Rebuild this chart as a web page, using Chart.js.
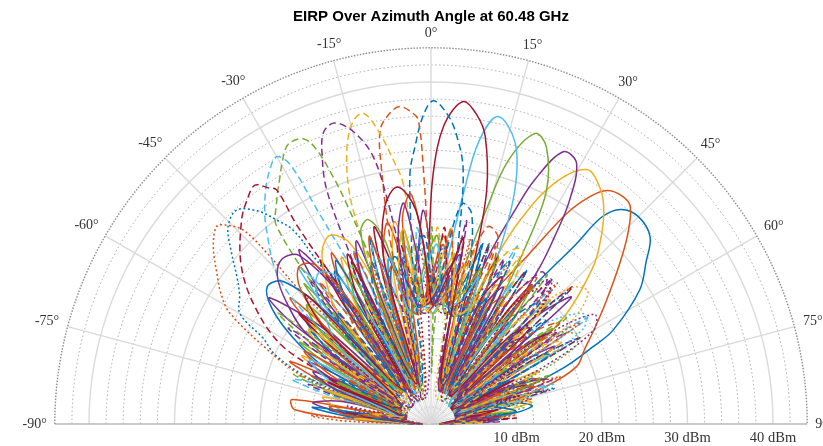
<!DOCTYPE html>
<html>
<head>
<meta charset="utf-8">
<script src="https://cdn.jsdelivr.net/npm/chart.js@4/dist/chart.umd.min.js"></script>
<style>
  body { margin: 0; background: #fff; }
  #wrap { width: 823px; height: 446px; }
</style>
</head>
<body>
<div id="wrap"><canvas id="eirp" width="823" height="446"></canvas></div>
<script>
// EIRP (dBm) against azimuth (deg), one list per beam: [azimuth, dBm]
// beams 1-7 solid, 8-14 dashed, 15-21 dotted, 22-28 solid, 29-32 dashed (matlab style cycling)
const beam01 = [[-90,1],[-86,6],[-82,12],[-78,4],[-72,9],[-68,15],[-62,5],[-55,14],[-50,19],[-44,6],[-36,17],[-32,21],[-26,5],[-18,15],[-14,20],[-8,14],[-2,14],[2,19],[8,14],[13,17],[16,21],[22,6],[26,11],[28,14],[30,7],[33.5,11.8],[36.5,19.5],[38.9,27.1],[39.5,31.3],[41.5,33.5],[45,34.3],[49.5,33.7],[53,31.5],[57.3,29],[62.7,24],[64.5,21],[67,17],[69,12],[69.5,6],[72,3],[76,10],[80,12],[84,8],[88,3],[90,1]];
const beam02 = [[-90,1],[-87,8],[-84,16],[-80,16.5],[-77,6],[-70,12],[-66,18],[-60,6],[-52,16],[-48,22],[-42,6],[-34,18],[-30,23],[-24,6],[-16,20],[-12,24],[-6,14],[0,17],[4,22],[10,14],[14,15],[17,19],[20,5],[24,12],[26,17.5],[28,20],[30,23],[32.8,29.3],[35,32.5],[37,34.2],[40,34.8],[42.5,34.5],[46,32],[49.6,29],[55,25],[60,22],[64,20],[68.5,18.3],[72,14],[75,8],[77,3],[82,9],[86,6],[90,1]];
const beam03 = [[-90,1],[-86,5],[-82,10],[-76,13],[-72,4],[-66,12],[-62,17],[-56,5],[-50,14],[-46,20],[-40,6],[-32,17],[-28,22],[-22,5],[-14,18],[-10,24],[-4,14],[2,17],[6,23],[10,14],[13,12],[16,5],[18.5,14],[21.4,21],[23.6,26],[27,31.5],[31.5,34.9],[36,33.8],[39.3,31.9],[43,29],[45.9,26.4],[50.8,20.5],[54,14],[56,7],[58,3],[62,10],[64,14],[70,4],[74,9],[78,12],[86,3],[90,1]];
const beam04 = [[-90,2],[-84,8],[-80,14],[-76,11],[-72,5],[-66,12],[-63,16],[-58,5],[-54,20],[-52,24],[-48,16],[-46,6],[-40,20],[-37,25.5],[-33,14],[-30,6],[-20,17],[-18,22],[-12,13],[-5,19],[-2,25],[2,16],[4,14],[8,15],[10,19],[13,5],[15.5,13],[19,21],[21.5,27],[23,31],[25.9,35.4],[29.2,34.9],[31.9,30.5],[33.5,26],[34.7,22.4],[36.5,14],[38,5],[44,17],[48,22],[50,5],[56,14],[58,17],[64,4],[70,8],[72,10],[80,4],[86,8],[90,2]];
const beam05 = [[-90,2],[-85,9],[-80,3],[-74,10],[-72,13],[-66,4],[-60,14],[-58,18],[-52,5],[-44,17],[-42,22],[-36,5],[-28,16],[-26,21],[-20,5],[-10,17],[-8,23],[-2,14],[3,17],[7,13],[10,14],[12.5,20],[14.5,26],[16.3,32],[19.7,36.1],[22.6,35.1],[26.3,30.5],[28,24],[29.5,15],[30.5,5],[34,15],[36,20],[40,12],[42,5],[50,14],[52,18],[58,4],[66,11],[68,14],[74,4],[80,7],[82,10],[86,4],[90,1]];
const beam06 = [[-90,2],[-84,7],[-78,3],[-72,9],[-70,12],[-64,4],[-58,13],[-56,17],[-50,5],[-42,19],[-40,24],[-36,14],[-33,6],[-26,16],[-24,22],[-18,5],[-10,16],[-8,21],[-3,14],[1,13],[4,15],[6,20],[8,27.2],[9.6,33.5],[12.3,36.8],[16.7,34.3],[19.7,29.1],[21.5,22],[23,12],[24,4],[28,14],[30,19],[35,5],[42,15],[44,20],[50,5],[58,12],[60,16],[66,4],[74,9],[76,11],[84,3],[90,1]];
const beam07 = [[-90,2],[-84,7],[-82,10],[-76,3],[-68,10],[-66,13],[-60,4],[-52,15],[-50,20],[-44,5],[-36,18],[-34,23],[-27,5],[-18,18],[-16,24],[-12,16],[-10,13],[-6,17],[-3,14],[-1.5,16],[-0.5,22],[0.5,29.3],[2.5,35],[5.7,37.9],[8.5,36.5],[10.7,34.2],[13.4,28.1],[14.8,20],[16,10],[17,4],[20,16],[22,21],[28,5],[34,16],[36,20],[42,5],[50,13],[52,17],[58,4],[66,10],[68,12],[76,3],[84,7],[90,1]];
const beam08 = [[-90,1],[-84,8],[-78,3],[-72,9],[-70,12],[-62,4],[-54,14],[-52,18],[-44,5],[-36,16],[-34,21],[-26,5],[-20,17],[-18,23],[-13,5],[-10,13],[-8,15],[-6,22],[-4.8,29.4],[-3.3,32.5],[-1.5,36],[0.4,37.8],[3,36.3],[5,34],[7.2,30],[8.5,22],[9.5,15],[10.5,13],[14,17],[16,22],[22,5],[30,16],[32,21],[38,5],[46,14],[48,18],[56,4],[64,10],[66,13],[74,3],[82,9],[90,1]];
const beam09 = [[-90,1],[-86,7],[-80,3],[-74,9],[-72,12],[-64,4],[-58,13],[-56,17],[-48,5],[-40,16],[-38,21],[-30,5],[-26,17],[-24,22],[-17,5],[-14,12],[-12.5,22],[-11,30.3],[-9.8,34.9],[-7.5,36.7],[-5.6,37.3],[-3.5,36.5],[-2.4,35.6],[-1.7,29.7],[-0.8,20],[0.5,15],[2,14],[4,17],[6,23],[12,13],[18,17],[20,22],[26,5],[34,15],[36,20],[42,4],[52,14],[54,18],[60,4],[68,10],[70,13],[78,3],[86,8],[90,1]];
const beam10 = [[-90,1],[-84,9],[-78,3],[-70,10],[-68,14],[-60,4],[-52,13],[-50,18],[-42,5],[-36,15],[-34,20],[-28,5],[-22,14],[-20.5,22],[-19.6,28.2],[-17.1,33.5],[-14.5,36.5],[-12.3,37.2],[-10.3,35],[-8,31],[-6.6,28.3],[-5,18],[-3.5,14],[-1,13],[0,17],[2,23],[8,13],[12,16],[14,21],[20,5],[26,17],[28,22],[34,5],[42,15],[44,20],[50,4],[58,13],[60,17],[66,4],[74,9],[76,12],[84,3],[90,2]];
const beam11 = [[-90,2],[-86,10],[-80,3],[-74,11],[-72,15],[-66,4],[-58,15],[-56,20],[-48,5],[-42,17],[-40,22],[-33,5],[-27,14],[-25.5,22],[-24,30],[-22,34],[-20.3,36.3],[-18,37],[-15.8,36.1],[-13.5,34],[-12.2,32],[-11.3,28.7],[-10,20],[-9,15],[-7,13],[-5,17],[-3,22],[3,14],[8,18],[10,24],[16,5],[22,16],[24,21],[30,5],[38,17],[40,22],[46,4],[54,14],[56,19],[62,4],[70,10],[72,13],[80,3],[88,8],[90,1]];
const beam12 = [[-90,1],[-84,10],[-78,3],[-72,13],[-70,17],[-62,4],[-56,17],[-54,22],[-46,6],[-41,18],[-38,29.3],[-35,31.5],[-31.4,33.9],[-28.5,36],[-26.7,36.8],[-24,36.5],[-22.6,34.7],[-21.6,31.1],[-21,27.8],[-20,20],[-19,10],[-18,4],[-12,14],[-8,13],[-2,14],[-0.5,20],[0.3,23],[1,14],[0.6,6],[2.5,13],[6,15],[8,20],[14,5],[20,16],[22,21],[28,5],[36,17],[38,22],[44,4],[50,15],[52,20],[58,4],[66,12],[68,15],[76,3],[84,9],[90,1]];
const beam13 = [[-90,2],[-86,10],[-80,3],[-74,13],[-72,17],[-64,8],[-58,8],[-54,10],[-50,16],[-46.4,24.4],[-40,30],[-36,33],[-32.4,35.2],[-30,36.1],[-28.5,34.5],[-28,28.4],[-27,20],[-26,10],[-25,4],[-20,17],[-18,22],[-12,13],[-6,17],[-4,23],[2,14],[8,16],[10,21],[16,5],[24,17],[26,23],[32,5],[40,16],[42,21],[48,5],[54,17],[56,22],[62,4],[70,11],[72,15],[78,4],[86,9],[90,1]];
const beam14 = [[-90,2],[-84,9],[-78,3],[-72,9],[-68,10],[-65,14],[-62,20],[-56,25],[-50,29],[-43,32.5],[-39.4,33.9],[-36.4,34.7],[-34.5,33.5],[-33.4,32.8],[-34,28],[-33.8,20],[-33,10],[-32,4],[-28,16],[-26,21],[-20,5],[-12,17],[-10,22],[-4,14],[2,18],[4,23],[10,13],[16,17],[18,22],[24,5],[30,16],[32,21],[38,5],[44,17],[46,23],[52,4],[58,15],[60,20],[66,4],[72,10],[74,14],[80,3],[86,10],[90,1]];
const beam15 = [[-90,2],[-84,10],[-79,4],[-72,10],[-69,16],[-66,20],[-63,22],[-60,25.8],[-56,27],[-52.8,28.5],[-49,31],[-45.8,33.1],[-42.2,33.8],[-39,32],[-37.1,29.9],[-35.4,27.8],[-35,24],[-34,15],[-33,5],[-28,14],[-26,18],[-18,4],[-12,15],[-10,20],[-4,14],[2,16],[4,21],[10,13],[16,17],[18,22],[24,4],[30,16],[32,21],[38,5],[44,17],[46,22],[52,4],[58,15],[60,20],[66,4],[72,11],[74,15],[80,3],[86,8],[90,1]];
const beam16 = [[-90,2],[-88,10],[-86,14],[-82,5],[-72,12],[-69,17],[-66.1,20.4],[-61.1,26.9],[-58,29],[-54.9,30.6],[-50.9,32.8],[-47.4,34.1],[-46,33.5],[-44.1,31.6],[-43.8,27.8],[-44.5,22],[-44,14],[-43,5],[-36,13],[-34,17],[-28,4],[-22,14],[-20,19],[-14,4],[-6,16],[-4,21],[2,14],[10,17],[12,22],[18,4],[24,16],[26,21],[32,4],[40,17],[42,22],[48,4],[54,16],[56,21],[62,4],[68,12],[70,16],[76,3],[84,10],[90,1]];
const beam17 = [[-90,1],[-80,8],[-72,3],[-62,12],[-54,3],[-40,15],[-32,3],[-18,17],[-10,13],[6,16],[14,3],[26,15],[32,4],[38,12],[42,18],[46,23],[50,24],[54,20],[57,10],[60,3],[68,10],[72,13],[80,3],[88,6],[90,1]];
const beam18 = [[-90,1],[-78,10],[-66,3],[-52,14],[-42,3],[-26,16],[-16,3],[0,18],[10,13],[22,17],[30,4],[36,19],[40,22],[44,17],[47,4],[52,16],[56,23],[60,22],[63,15],[66,5],[74,10],[76,12],[84,3],[90,2]];
const beam19 = [[-90,1],[-82,7],[-74,3],[-60,13],[-50,3],[-34,15],[-24,3],[-8,17],[2,13],[16,18],[24,3],[32,14],[40,3],[52,16],[58,20],[62,19],[66,10],[68,3],[76,9],[80,11],[86,3],[90,1]];
const beam20 = [[-90,1],[-84,6],[-76,3],[-66,12],[-56,3],[-44,14],[-36,3],[-20,15],[-12,13],[4,16],[12,13],[24,16],[34,3],[38,14],[42,8],[48,17],[54,22],[58,21],[61,12],[63,4],[70,9],[74,12],[82,3],[90,1]];
const beam21 = [[-90,1],[-80,9],[-70,3],[-56,13],[-46,3],[-30,16],[-20,3],[-4,17],[6,13],[18,16],[26,3],[34,16],[38,20],[42,21],[45,14],[48,3],[56,14],[62,3],[72,11],[78,3],[86,7],[90,1]];
const beam22 = [[-90,1],[-86,8],[-82,14],[-78,5],[-72,12],[-66,5],[-62,14],[-58,19],[-54,23],[-50,25],[-46,24],[-43,18],[-41,6],[-34,18],[-30,22],[-26,6],[-16,17],[-12,20],[-6,14],[2,15],[6,18],[10,13],[20,14],[24,16],[30,4],[40,12],[44,13],[50,3],[60,10],[66,3],[76,8],[82,10],[90,1]];
const beam23 = [[-90,1],[-84,10],[-80,12],[-74,4],[-64,13],[-60,17],[-54,5],[-48,16],[-44,22],[-40,24],[-36,23],[-33,16],[-31,5],[-22,17],[-18,23],[-14,6],[-8,24],[-5,27],[-2,20],[0,14],[8,16],[12,19],[16,4],[26,15],[30,17],[36,4],[46,12],[50,14],[56,3],[66,9],[72,3],[80,7],[90,1]];
const beam24 = [[-90,1],[-86,9],[-80,4],[-72,13],[-66,4],[-56,15],[-52,18],[-46,5],[-40,17],[-36,21],[-32,24],[-28,25],[-24,23],[-21,15],[-19,5],[-12,18],[-8,23],[-4,14],[4,17],[8,20],[12,13],[22,16],[26,18],[32,4],[42,13],[46,15],[52,3],[62,10],[68,3],[78,7],[90,1]];
const beam25 = [[-90,1],[-84,7],[-78,3],[-70,12],[-66,15],[-60,5],[-54,18],[-50,22],[-46,25],[-42,26],[-38,25],[-35,18],[-33,6],[-26,18],[-22,23],[-18,6],[-10,22],[-7,26],[-4,18],[-2,14],[6,18],[10,20],[14,4],[24,15],[28,18],[34,4],[44,13],[48,15],[54,3],[64,10],[70,3],[80,6],[90,1]];
const beam26 = [[-90,1],[-82,8],[-76,3],[-66,12],[-58,4],[-50,17],[-46,20],[-40,5],[-32,16],[-28,20],[-24,6],[-22,18],[-20,24],[-17,25],[-14,22],[-12,14],[-10,13],[-2,19],[2,22],[6,14],[14,16],[18,19],[24,4],[34,14],[38,16],[44,3],[54,11],[60,3],[70,8],[78,3],[86,5],[90,1]];
const beam27 = [[-90,1],[-84,8],[-78,4],[-68,12],[-62,16],[-56,5],[-50,14],[-44,18],[-40,21],[-36,22],[-32,20],[-29,12],[-27,4],[-18,16],[-14,20],[-10,13],[-2,18],[2,21],[6,14],[14,15],[18,18],[24,4],[34,13],[38,15],[44,3],[54,10],[62,3],[72,8],[80,3],[90,1]];
const beam28 = [[-90,1],[-84,8],[-78,3],[-68,13],[-60,4],[-48,17],[-44,21],[-38,5],[-30,17],[-26,22],[-20,5],[-16,20],[-12,26],[-8,28],[-4,25],[-1,17],[1,14],[6,17],[10,22],[14,5],[22,16],[26,19],[32,4],[42,14],[46,16],[52,3],[62,11],[68,3],[78,8],[90,1]];
const beam29 = [[-90,1],[-84,7],[-76,3],[-64,12],[-56,4],[-44,14],[-40,17],[-34,4],[-24,16],[-20,20],[-14,5],[-6,18],[-2,22],[2,14],[5,20],[8,26],[11,25],[14,18],[16,5],[22,17],[26,21],[30,5],[38,16],[42,19],[48,4],[56,14],[60,16],[66,3],[74,9],[80,3],[88,5],[90,1]];
const beam30 = [[-90,1],[-82,8],[-74,3],[-62,11],[-52,4],[-40,13],[-36,16],[-30,4],[-18,15],[-14,19],[-8,13],[0,17],[4,21],[8,14],[12,18],[16,24],[20,23],[23,14],[25,4],[32,17],[36,21],[40,5],[48,16],[52,19],[58,4],[66,13],[70,14],[76,3],[84,8],[90,1]];
const beam31 = [[-90,1],[-80,7],[-70,3],[-56,11],[-46,4],[-32,13],[-28,16],[-22,4],[-10,15],[-6,18],[0,13],[8,16],[12,19],[16,5],[20,17],[24,22],[28,23],[31,16],[33,5],[40,16],[44,19],[48,5],[54,15],[58,18],[64,4],[70,10],[74,12],[80,3],[88,6],[90,1]];
const beam32 = [[-90,1],[-82,6],[-72,3],[-58,10],[-48,3],[-34,12],[-26,3],[-14,14],[-10,17],[-4,13],[4,15],[8,18],[14,4],[22,16],[26,19],[30,6],[32,16],[36,22],[40,21],[43,14],[45,4],[50,15],[54,18],[60,4],[66,12],[70,15],[76,3],[84,8],[90,1]];

const beams = [beam01, beam02, beam03, beam04, beam05, beam06, beam07, beam08,
  beam09, beam10, beam11, beam12, beam13, beam14, beam15, beam16,
  beam17, beam18, beam19, beam20, beam21, beam22, beam23, beam24,
  beam25, beam26, beam27, beam28, beam29, beam30, beam31, beam32];

// axis ticks
const rLim = 44;
const rMinorRings = [2,4,6,8,12,14,16,18,22,24,26,28,32,34,36,38,42];
const rMajorRings = [10,20,30,40];
const rTickLabels = ['10 dBm','20 dBm','30 dBm','40 dBm'];
const thetaTicks = [-90,-75,-60,-45,-30,-15,0,15,30,45,60,75,90];

const lineColors = ['#0072BD','#D95319','#EDB120','#7E2F8E','#77AC30','#4DBEEE','#A2142F'];
const lineDashes = [[], [7,4], [2,2.5]];

// layout: polar origin at (431,424), 8.55 px per dB
const ORIGIN_X = 431, ORIGIN_Y = 424, PX_PER_DB = 8.55;
const W = 823, H = 446;
const DEG = Math.PI / 180;

const datasets = beams.map((pts, i) => ({
  data: pts.map(([az, p]) => ({ x: p * Math.sin(az * DEG), y: p * Math.cos(az * DEG) })),
  borderColor: lineColors[i % 7],
  borderDash: lineDashes[Math.floor(i / 7) % 3],
  borderWidth: 1.5,
  showLine: true,
  pointRadius: 0,
  tension: 0.35,
  fill: false,
  order: -i
}));

const polarGrid = {
  id: 'polarGrid',
  beforeDatasetsDraw(chart) {
    const { ctx, scales: { x, y } } = chart;
    const cx = x.getPixelForValue(0), cy = y.getPixelForValue(0);
    const pr = r => x.getPixelForValue(r) - cx;
    ctx.save();
    // minor rings
    ctx.setLineDash([1.5, 2.5]);
    ctx.strokeStyle = '#a6a6a6';
    ctx.lineWidth = 1;
    rMinorRings.forEach(r => {
      ctx.beginPath();
      ctx.arc(cx, cy, pr(r), Math.PI, 2 * Math.PI);
      ctx.stroke();
    });
    // minor spokes near origin
    ctx.strokeStyle = '#dcdcdc';
    ctx.setLineDash([]);
    ctx.lineWidth = 0.8;
    for (let a = -85; a <= 85; a += 5) {
      if (a % 15 === 0) continue;
      ctx.beginPath();
      ctx.moveTo(cx, cy);
      ctx.lineTo(cx + pr(5) * Math.sin(a * DEG), cy - pr(5) * Math.cos(a * DEG));
      ctx.stroke();
    }
    // major rings
    ctx.strokeStyle = '#dadada';
    ctx.lineWidth = 1.4;
    rMajorRings.forEach(r => {
      ctx.beginPath();
      ctx.arc(cx, cy, pr(r), Math.PI, 2 * Math.PI);
      ctx.stroke();
    });
    // spokes
    thetaTicks.forEach(a => {
      ctx.strokeStyle = Math.abs(a) === 90 ? '#b8b8b8' : '#dadada';
      ctx.lineWidth = Math.abs(a) === 90 ? 1.6 : 1.4;
      ctx.beginPath();
      ctx.moveTo(cx, cy);
      ctx.lineTo(cx + pr(rLim) * Math.sin(a * DEG), cy - pr(rLim) * Math.cos(a * DEG));
      ctx.stroke();
    });
    // outer edge
    ctx.setLineDash([1.5, 1.5]);
    ctx.strokeStyle = '#8c8c8c';
    ctx.lineWidth = 1.4;
    ctx.beginPath();
    ctx.arc(cx, cy, pr(rLim), Math.PI, 2 * Math.PI);
    ctx.stroke();
    ctx.restore();
  },
  afterDraw(chart) {
    const { ctx, scales: { x, y } } = chart;
    const cx = x.getPixelForValue(0), cy = y.getPixelForValue(0);
    const pr = r => x.getPixelForValue(r) - cx;
    ctx.save();
    ctx.fillStyle = '#333';
    ctx.font = '14px "Liberation Serif"';
    ctx.textAlign = 'center';
    ctx.textBaseline = 'middle';
    thetaTicks.forEach(a => {
      const label = a + '\u00B0';
      const hw = ctx.measureText(label).width / 2, hh = 6;
      const s = Math.sin(a * DEG), c = Math.cos(a * DEG);
      const rr = pr(rLim) + 8 + hw * Math.abs(s) + hh * Math.abs(c);
      ctx.fillText(label, cx + rr * s, cy - rr * c);
    });
    ctx.font = '14.5px "Liberation Serif"';
    rMajorRings.forEach((r, i) => {
      ctx.fillText(rTickLabels[i], cx + pr(r), cy + 14);
    });
    ctx.font = 'bold 15px "Liberation Sans"';
    ctx.fillStyle = '#000';
    ctx.fillText('EIRP Over Azimuth Angle at 60.48 GHz', cx, 17);
    ctx.restore();
  }
};

new Chart(document.getElementById('eirp'), {
  type: 'scatter',
  data: { datasets },
  options: {
    responsive: false,
    devicePixelRatio: 1,
    animation: false,
    events: [],
    layout: { padding: 0 },
    plugins: { legend: { display: false }, tooltip: { enabled: false } },
    scales: {
      x: { display: false, min: -ORIGIN_X / PX_PER_DB, max: (W - ORIGIN_X) / PX_PER_DB },
      y: { display: false, min: -(H - ORIGIN_Y) / PX_PER_DB, max: ORIGIN_Y / PX_PER_DB }
    }
  },
  plugins: [polarGrid]
});
</script>
</body>
</html>
